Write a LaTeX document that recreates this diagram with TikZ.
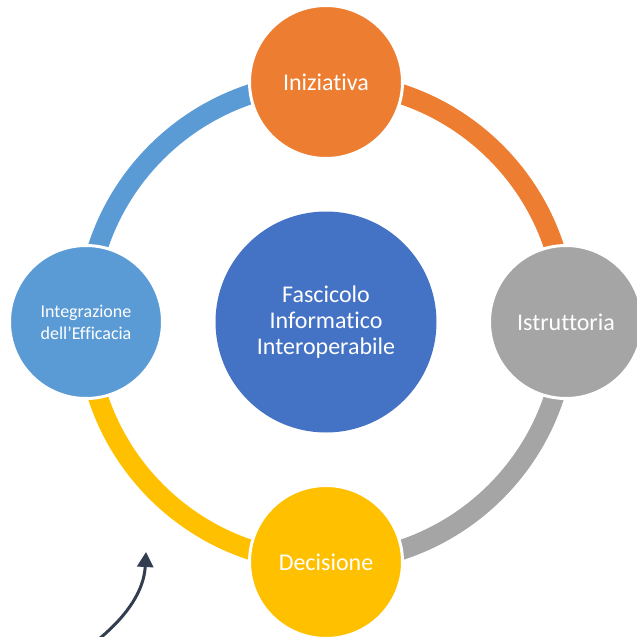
\documentclass[tikz,border=0pt]{standalone}
\usepackage{fontspec}
\setmainfont{Carlito}[Ligatures={NoCommon}]
\usetikzlibrary{arrows.meta}
\definecolor{cOrange}{HTML}{ED7D31}
\definecolor{cGray}{HTML}{A5A5A5}
\definecolor{cYellow}{HTML}{FFC000}
\definecolor{cLBlue}{HTML}{5B9BD5}
\definecolor{cBlue}{HTML}{4472C4}
\definecolor{cDark}{HTML}{323E4F}
\begin{document}
\begin{tikzpicture}[x=1pt,y=-1pt,
  stage/.style={circle, inner sep=0pt, minimum size=153pt, draw=white, line width=3pt,
    text=white, align=center, font=\fontsize{24}{26}\selectfont},
  ring/.style={line width=20pt}]
\useasboundingbox (0,0) rectangle (637,637);
\coordinate (c) at (326,322);
\node[coordinate] (tp) at (326,82) {};
\node[coordinate] (rt) at (566,322) {};
\node[coordinate] (bt) at (326,562) {};
\node[coordinate] (lt) at (86,322) {};
\draw[ring, cOrange] (tp) arc[start angle=-90, end angle=0, radius=240];
\draw[ring, cGray] (rt) arc[start angle=0, end angle=90, radius=240];
\draw[ring, cYellow] (bt) arc[start angle=90, end angle=180, radius=240];
\draw[ring, cLBlue] (lt) arc[start angle=180, end angle=270, radius=240];
\node[stage, fill=cOrange] (ini) at (tp) {Iniziativa};
\node[stage, fill=cGray] (ist) at (rt) {Istruttoria};
\node[stage, fill=cYellow] (dec) at (bt) {Decisione};
\node[stage, fill=cLBlue, font=\fontsize{18}{22}\selectfont] (integ) at (lt) {Integrazione\\dell'Efficacia};
\node[stage, fill=cBlue, minimum size=221pt, draw=none] (fas) at (c) {Fascicolo\\Informatico\\Interoperabile};
\coordinate (as) at (99,639);
\coordinate (ae) at (146,552);
\draw[cDark, line width=3pt, -{Triangle[width=16pt,length=15pt]}] (as) .. controls (128,615) and (144,590) .. (ae);
\end{tikzpicture}
\end{document}
